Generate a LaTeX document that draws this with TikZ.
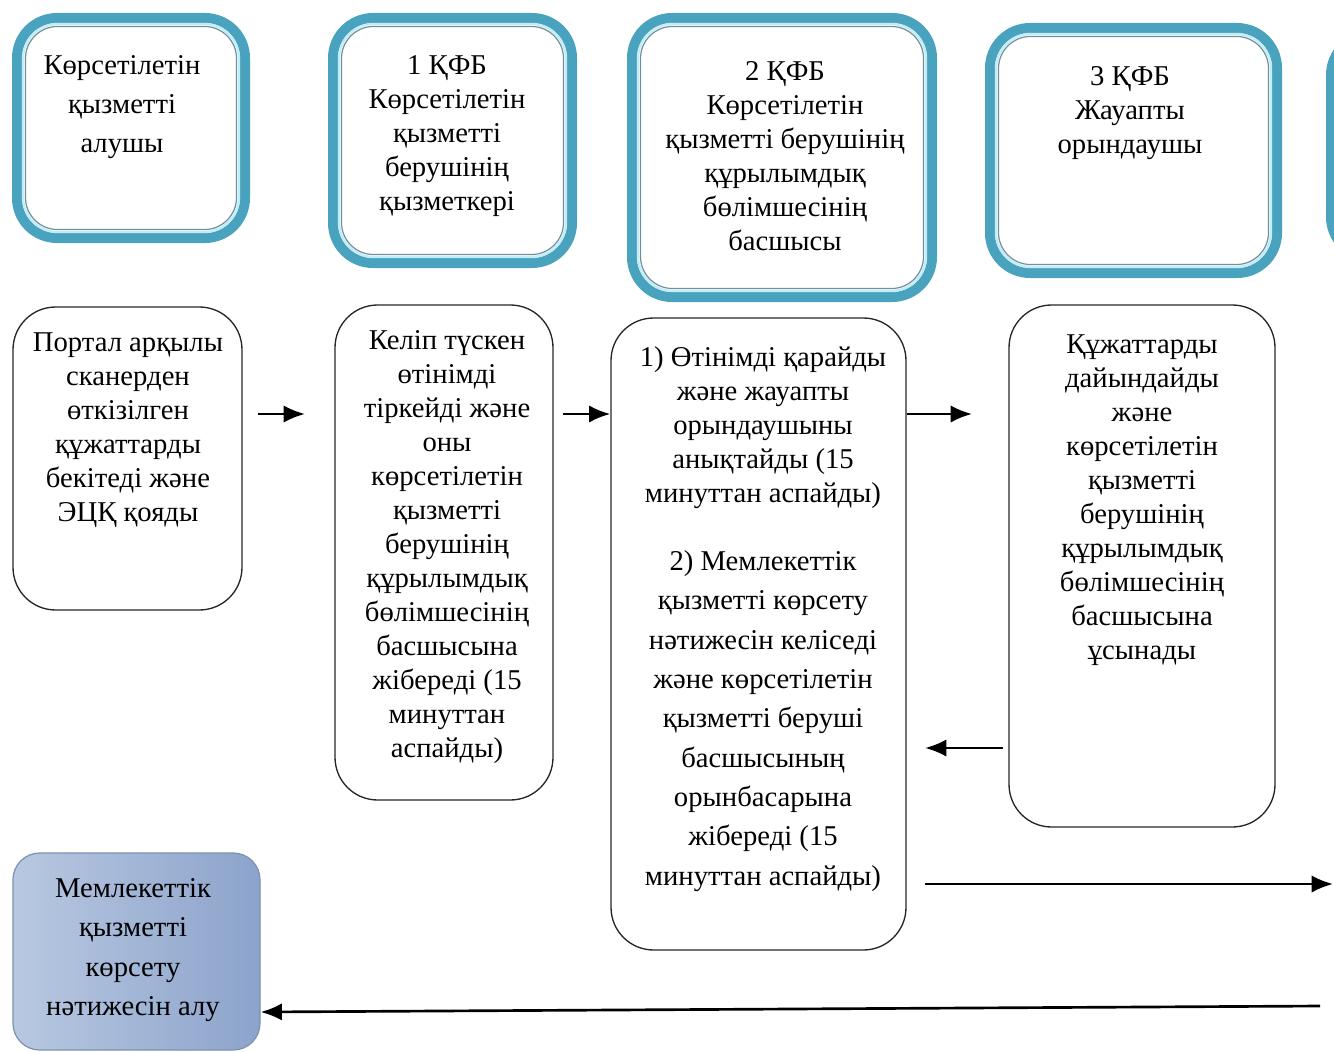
\documentclass[tikz,border=0pt]{standalone}
\usepackage{fontspec}
\setmainfont{Liberation Serif}
\usetikzlibrary{fit,arrows.meta}

\definecolor{hdrband}{RGB}{74,163,190}
\definecolor{hdrgap}{RGB}{196,236,246}
\definecolor{hdrline}{RGB}{110,145,155}
\definecolor{resL}{RGB}{184,200,225}
\definecolor{resM}{RGB}{240,244,250}
\definecolor{resR}{RGB}{140,163,203}
\definecolor{resline}{RGB}{125,145,175}

\tikzset{
  hdrbox/.style={draw=hdrband, line width=7.5pt, rounded corners=30pt, inner sep=0pt},
  hdrgapline/.style={draw=hdrgap, line width=1.8pt, rounded corners=26pt},
  hdrinner/.style={draw=hdrline, line width=0.9pt, rounded corners=24pt},
  stepbox/.style={draw=black!85, line width=1pt, rounded corners=32pt, inner sep=0pt},
  resbox/.style={draw=resline, line width=0.9pt, rounded corners=20pt, inner sep=0pt,
    left color=resL, middle color=resM, right color=resR},
  txt/.style={align=center, inner sep=0.75pt, text=black, font=\fontsize{21.5}{25.5}\selectfont},
  txtwide/.style={txt, font=\fontsize{21.5}{29.5}\selectfont},
  arr/.style={line width=2pt, -{Latex[length=16pt,width=13pt]}},
}

\begin{document}
\begin{tikzpicture}[x=0.75pt,y=0.75pt,yscale=-1]
\clip (0,0) rectangle (1334,1052);
\useasboundingbox (0,0) rectangle (1334,1052);

%Shape: Header boxes
\node[hdrbox, fit={(17,18) (245,238)}] (h0) {};
\draw[hdrgapline] (23,24) rectangle (239,232);
\draw[hdrinner] (25.5,26.5) rectangle (236.5,229.5);

\node[hdrbox, fit={(333,18) (572,263)}] (h1) {};
\draw[hdrgapline] (339,24) rectangle (566,257);
\draw[hdrinner] (341.5,26.5) rectangle (563.5,254.5);

\node[hdrbox, fit={(632,18) (932,297)}] (h2) {};
\draw[hdrgapline] (638,24) rectangle (926,291);
\draw[hdrinner] (640.5,26.5) rectangle (923.5,288.5);

\node[hdrbox, fit={(990,28) (1277,273)}] (h3) {};
\draw[hdrgapline] (996,34) rectangle (1271,267);
\draw[hdrinner] (998.5,36.5) rectangle (1268.5,264.5);

\node[hdrbox, fit={(1331,35) (1695,257)}] (h4) {};

% Text Node
\node[txtwide] (h0t) at (122,107) {Көрсетілетін\\қызметті\\алушы};
% Text Node
\node[txt] (h1t) at (447,136) {1 ҚФБ\\Көрсетілетін\\қызметті\\берушінің\\қызметкері};
% Text Node
\node[txt] (h2t) at (785,156) {2 ҚФБ\\Көрсетілетін\\қызметті берушінің\\құрылымдық\\бөлімшесінің\\басшысы};
% Text Node
\node[txt] (h3t) at (1130,113) {3 ҚФБ\\Жауапты\\орындаушы};

%Shape: Step boxes
\node[stepbox, fit={(13,307) (242,610)}] (s0) {};
\node[stepbox, fit={(335,305) (553,800)}] (s1) {};
\node[stepbox, fit={(611,318) (906,950)}] (s2) {};
\node[stepbox, fit={(1009,305) (1275,827)}] (s3) {};
\node[resbox, fit={(13,853) (260,1050)}] (r) {};

% Text Node
\node[txt] (s0t) at (128,430) {Портал арқылы\\сканерден\\өткізілген\\құжаттарды\\бекітеді және\\ЭЦҚ қояды};
% Text Node
\node[txt] (s1t) at (447,547) {Келіп түскен\\өтінімді\\тіркейді және\\оны\\көрсетілетін\\қызметті\\берушінің\\құрылымдық\\бөлімшесінің\\басшысына\\жібереді (15\\минуттан\\аспайды)};
% Text Node
\node[txt] (s2ta) at (763,428) {1) Өтінімді қарайды\\және жауапты\\орындаушыны\\анықтайды (15\\минуттан аспайды)};
% Text Node
\node[txtwide] (s2tb) at (763,721) {2) Мемлекеттік\\қызметті көрсету\\нәтижесін келіседі\\және көрсетілетін\\қызметті беруші\\басшысының\\орынбасарына\\жібереді (15\\минуттан аспайды)};
% Text Node
\node[txt] (s3t) at (1142,500) {Құжаттарды\\дайындайды\\және\\көрсетілетін\\қызметті\\берушінің\\құрылымдық\\бөлімшесінің\\басшысына\\ұсынады};
% Text Node
\node[txtwide] (rt) at (133,950) {Мемлекеттік\\қызметті\\көрсету\\нәтижесін алу};

%Straight Lines
\coordinate (a1s) at (258,414);
\coordinate (a1e) at (305,414);
\coordinate (a2s) at (563,414);
\coordinate (a3e) at (972,414);
\coordinate (a4s) at (1003,748);
\coordinate (a4e) at (925,748);
\coordinate (a5s) at (925,884);
\coordinate (a5e) at (1333,884);
\coordinate (a6s) at (1320,1006);
\coordinate (a6e) at (0,1012);
\draw[arr] (a1s) -- (a1e);
\draw[arr] (a2s) -- (s2.west |- a2s);
\draw[arr] (s2.east |- a3e) -- (a3e);
\draw[arr] (a4s) -- (a4e);
\draw[arr] (a5s) -- (a5e);
\draw[arr] (a6s) -- (r.east |- a6e);

\end{tikzpicture}
\end{document}
